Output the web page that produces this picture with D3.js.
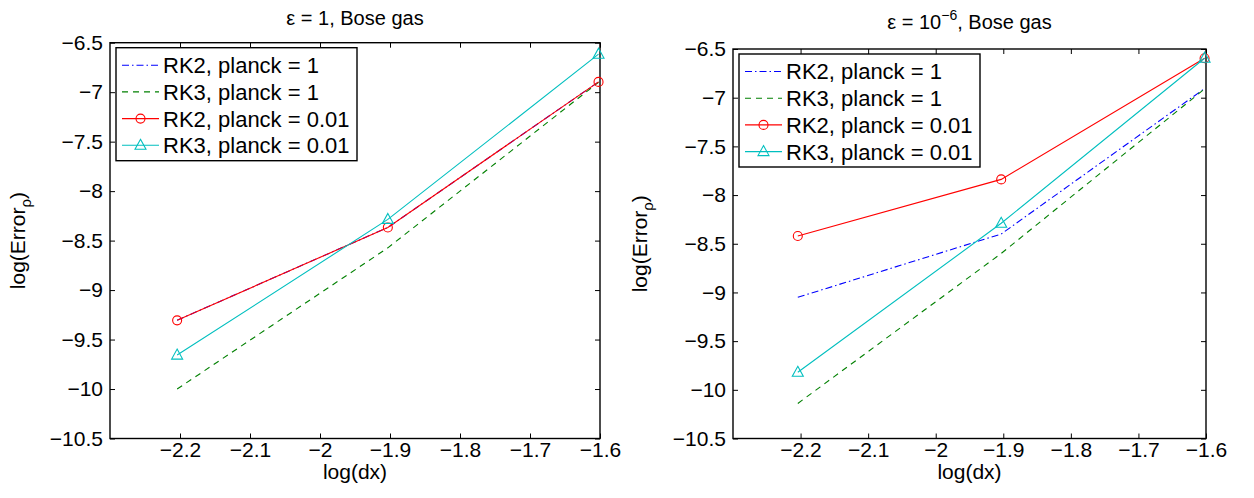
<!DOCTYPE html>
<html><head><meta charset="utf-8">
<script src="https://cdn.jsdelivr.net/npm/d3@7"></script>
<style>
body{margin:0;background:#fff;}
svg{display:block;font-family:"Liberation Sans",Arial,Helvetica,sans-serif;}
</style></head>
<body>
<svg id="chart" width="1254" height="498"></svg>
<script>
// ---- data ----
const xVals = [-2.2041, -1.9031, -1.6021];           // log(dx)
const xTicks = [-2.2, -2.1, -2.0, -1.9, -1.8, -1.7, -1.6];
const yTicks = [-6.5, -7, -7.5, -8, -8.5, -9, -9.5, -10, -10.5];
const seriesNames = ["RK2, planck = 1", "RK3, planck = 1", "RK2, planck = 0.01", "RK3, planck = 0.01"];
// left panel: epsilon = 1
const leftRK2p1   = [-9.305, -8.367, -6.896];
const leftRK3p1   = [-10.00, -8.573, -6.90];
const leftRK2p001 = [-9.306, -8.367, -6.896];
const leftRK3p001 = [-9.657, -8.286, -6.616];
// right panel: epsilon = 1e-6
const rightRK2p1   = [-9.05, -8.40, -6.906];
const rightRK3p1   = [-10.14, -8.60, -6.91];
const rightRK2p001 = [-8.42, -7.839, -6.595];
const rightRK3p001 = [-9.82, -8.29, -6.595];

// ---- styles ----
const styles = [
  {color:"#0000ff", dash:"7,3,1.5,3", marker:null},
  {color:"#008000", dash:"6,5", marker:null},
  {color:"#ff0000", dash:null, marker:"circle"},
  {color:"#00bfbf", dash:null, marker:"triangle"}
];

const svg = d3.select("#chart");

const panels = [
  {x0:110, x1:600, y0:42.7, y1:438.5, title:"left", data:[leftRK2p1, leftRK3p1, leftRK2p001, leftRK3p001], ylabX:25},
  {x0:733, x1:1206, y0:49, y1:438.5, title:"right", data:[rightRK2p1, rightRK3p1, rightRK2p001, rightRK3p001], ylabX:647}
];

const fmt = d => (d < 0 ? "\u2212" : "") + String(+Math.abs(d).toFixed(1));

panels.forEach(p => {
  const x = d3.scaleLinear().domain([-2.3, -1.6]).range([p.x0, p.x1]);
  const y = d3.scaleLinear().domain([-10.5, -6.5]).range([p.y1, p.y0]);
  const g = svg.append("g");

  // axes
  const bottom = g.append("g").attr("transform", `translate(0,${p.y1})`)
    .call(d3.axisBottom(x).tickValues(xTicks).tickSize(-5).tickPadding(4).tickFormat(fmt));
  const top = g.append("g").attr("transform", `translate(0,${p.y0})`)
    .call(d3.axisTop(x).tickValues(xTicks).tickSize(-5).tickFormat(""));
  const left = g.append("g").attr("transform", `translate(${p.x0},0)`)
    .call(d3.axisLeft(y).tickValues(yTicks).tickSize(-5).tickPadding(7).tickFormat(fmt));
  const right = g.append("g").attr("transform", `translate(${p.x1},0)`)
    .call(d3.axisRight(y).tickValues(yTicks).tickSize(-5).tickFormat(""));
  [bottom, top, left, right].forEach(a => {
    a.select(".domain").remove();
    a.selectAll(".tick line").attr("stroke", "#000").attr("stroke-width", 1);
    a.selectAll(".tick text").attr("font-size", 21).attr("fill", "#000")
      .attr("font-family", "Liberation Sans, Arial, sans-serif");
  });
  g.append("rect").attr("x", p.x0).attr("y", p.y0).attr("width", p.x1 - p.x0).attr("height", p.y1 - p.y0)
    .attr("fill", "none").attr("stroke", "#000").attr("stroke-width", 1.4);

  // lines
  const line = d3.line().x((d, i) => x(xVals[i])).y(d => y(d));
  p.data.forEach((vals, k) => {
    const s = styles[k];
    g.append("path").datum(vals).attr("d", line).attr("fill", "none")
      .attr("stroke", s.color).attr("stroke-width", 1.1)
      .attr("stroke-dasharray", s.dash);
    if (s.marker === "circle") {
      g.selectAll(null).data(vals).enter().append("circle")
        .attr("cx", (d, i) => x(xVals[i])).attr("cy", d => y(d)).attr("r", 4.5)
        .attr("fill", "none").attr("stroke", s.color).attr("stroke-width", 1.1);
    } else if (s.marker === "triangle") {
      g.selectAll(null).data(vals).enter().append("path")
        .attr("transform", (d, i) => `translate(${x(xVals[i])},${y(d)})`)
        .attr("d", "M0,-6L5.5,4L-5.5,4Z")
        .attr("fill", "none").attr("stroke", s.color).attr("stroke-width", 1.1);
    }
  });

  // legend
  const lx = p.x0 + 6, ly = p.y0 + 5, lw = 241, lh = 113;
  const lg = g.append("g");
  lg.append("rect").attr("x", lx).attr("y", ly).attr("width", lw).attr("height", lh)
    .attr("fill", "#fff").attr("stroke", "#000").attr("stroke-width", 1.4);
  seriesNames.forEach((name, k) => {
    const s = styles[k];
    const ry = ly + 17.5 + k * 26.7;
    lg.append("line").attr("x1", lx + 6).attr("x2", lx + 43).attr("y1", ry).attr("y2", ry)
      .attr("stroke", s.color).attr("stroke-width", 1.1).attr("stroke-dasharray", s.dash);
    const mx = lx + 24.5;
    if (s.marker === "circle") {
      lg.append("circle").attr("cx", mx).attr("cy", ry).attr("r", 4.5).attr("fill", "none")
        .attr("stroke", s.color).attr("stroke-width", 1.1);
    } else if (s.marker === "triangle") {
      lg.append("path").attr("transform", `translate(${mx},${ry})`).attr("d", "M0,-6L5.5,4L-5.5,4Z")
        .attr("fill", "none").attr("stroke", s.color).attr("stroke-width", 1.1);
    }
    lg.append("text").attr("x", lx + 47).attr("y", ry).attr("dy", "0.36em")
      .attr("font-size", 22).text(name);
  });

  // x label
  g.append("text").attr("x", (p.x0 + p.x1) / 2).attr("y", 479).attr("text-anchor", "middle")
    .attr("font-size", 21).text("log(dx)");
  // y label
  const yl = g.append("text").attr("transform", `translate(${p.ylabX},${(p.y0 + p.y1) / 2}) rotate(-90)`)
    .attr("text-anchor", "middle").attr("font-size", 21);
  yl.append("tspan").text("log(Error");
  yl.append("tspan").attr("font-size", 15).attr("dy", 6).text("ρ");
  yl.append("tspan").attr("dy", -6).text(")");

  // title
  const t = g.append("text").attr("x", (p.x0 + p.x1) / 2).attr("text-anchor", "middle").attr("font-size", 20);
  if (p.title === "left") {
    t.attr("y", 25).text("ε = 1, Bose gas");
  } else {
    t.attr("y", 29);
    t.append("tspan").text("ε = 10");
    t.append("tspan").attr("font-size", 14).attr("dy", -9).text("\u22126");
    t.append("tspan").attr("dy", 9).text(", Bose gas");
  }
});
</script>
</body></html>
